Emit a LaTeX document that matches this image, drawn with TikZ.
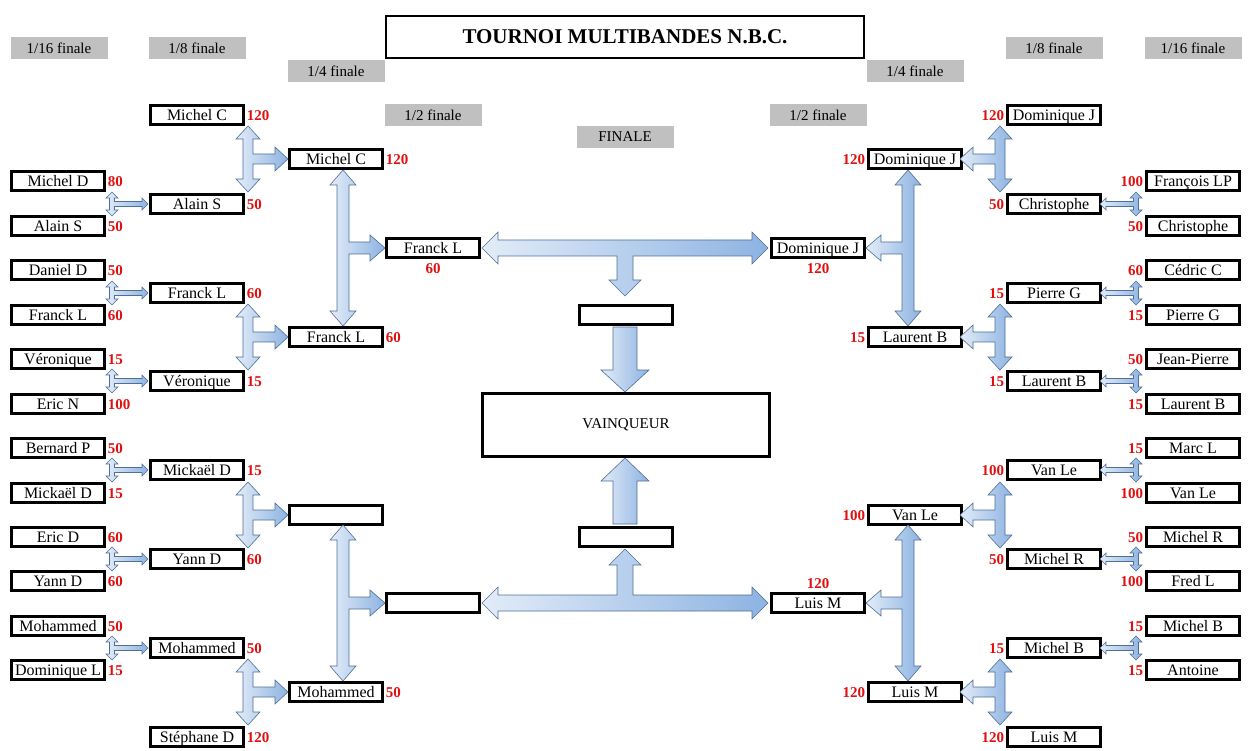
\documentclass[tikz,border=0pt]{standalone}
\usepackage{fontspec}
\setmainfont{Liberation Serif}
\definecolor{arrowblue}{HTML}{8DB3E2}
\definecolor{arrowline}{HTML}{4F6F96}
\definecolor{scorered}{HTML}{E01010}
\definecolor{headgray}{HTML}{C0C0C0}
\tikzset{
  player/.style={draw,line width=2.5pt,minimum width=93pt,minimum height=19pt,inner sep=0pt,text height=13pt,text depth=2pt,font=\fontsize{16}{18}\selectfont},
  score/.style={text=scorered,font=\bfseries\fontsize{15}{17}\selectfont,inner sep=2pt,text height=13pt,text depth=2pt},
  heading/.style={fill=headgray,minimum width=97pt,minimum height=22pt,inner sep=0pt,font=\fontsize{15}{17}\selectfont},
  fatarrow/.style={draw=arrowline,line width=0.6pt,left color=arrowblue!25!white,right color=arrowblue},
}
% T connector: s h L x ytop ybot ymid branch dir
\newcommand{\tjoin}[9]{%
  \begin{scope}[shift={(#4,#7)},xscale=#9]
    \path[fatarrow] (0,{#5-#7}) -- ({#2},{#5-#7+#3}) -- ({#1},{#5-#7+#3}) -- ({#1},{-#1})
      -- ({#8-#3},{-#1}) -- ({#8-#3},{-#2}) -- ({#8},0) -- ({#8-#3},{#2}) -- ({#8-#3},{#1})
      -- ({#1},{#1}) -- ({#1},{#6-#7-#3}) -- ({#2},{#6-#7-#3}) -- (0,{#6-#7})
      -- ({-#2},{#6-#7-#3}) -- ({-#1},{#6-#7-#3}) -- ({-#1},{#5-#7+#3}) -- ({-#2},{#5-#7+#3}) -- cycle;
  \end{scope}}
% central connector: s h L x1 x2 y xmid branch dir
\newcommand{\cjoin}[9]{%
  \begin{scope}[shift={(#7,#6)},yscale=#9]
    \path[fatarrow] ({#4-#7},0) -- ({#4-#7+#3},{-#2}) -- ({#4-#7+#3},{-#1}) -- ({#5-#7-#3},{-#1})
      -- ({#5-#7-#3},{-#2}) -- ({#5-#7},0) -- ({#5-#7-#3},{#2}) -- ({#5-#7-#3},{#1})
      -- ({#1},{#1}) -- ({#1},{#8-#3}) -- ({#2},{#8-#3}) -- (0,{#8}) -- ({-#2},{#8-#3})
      -- ({-#1},{#8-#3}) -- ({-#1},{#1}) -- ({#4-#7+#3},{#1}) -- ({#4-#7+#3},{#2}) -- cycle;
  \end{scope}}
\begin{document}
\begin{tikzpicture}[x=1pt,y=-1pt]
  \useasboundingbox (0,0) rectangle (1248,751);
  % title and round headings
  \node[draw,line width=2.5pt,minimum width=478pt,minimum height=42pt,font=\bfseries\fontsize{21}{24}\selectfont] (title) at (625,37) {TOURNOI MULTIBANDES N.B.C.};
  \foreach \x/\y/\t [count=\i] in {59/48/{1/16 finale},197/48/{1/8 finale},336/71/{1/4 finale},433/115/{1/2 finale},
      625/137/FINALE,818/115/{1/2 finale},915/71/{1/4 finale},1054/48/{1/8 finale},1193/48/{1/16 finale}}
    \node[heading] (head\i) at (\x,\y) {\t};
  % left side
  \foreach \y/\n/\s in {181/Michel D/80,226/Alain S/50,270/Daniel D/50,315/Franck L/60,359/Véronique/15,404/Eric N/100,
      448/Bernard P/50,493/Mickaël D/15,537/Eric D/60,581/Yann D/60,626/Mohammed/50,670/Dominique L/15}{
    \node[player] (la\y) at (58,\y) {\n};
    \node[score,anchor=west] at (la\y.east) {\s};}
  \foreach \y/\n/\s in {115/Michel C/120,204/Alain S/50,293/Franck L/60,381/Véronique/15,
      470/Mickaël D/15,559/Yann D/60,648/Mohammed/50,737/Stéphane D/120}{
    \node[player] (lb\y) at (197,\y) {\n};
    \node[score,anchor=west] at (lb\y.east) {\s};}
  \foreach \y/\n/\s in {159/Michel C/120,337/Franck L/60,515//,692/Mohammed/50}{
    \node[player] (lc\y) at (336,\y) {\n};
    \node[score,anchor=west] at (lc\y.east) {\s};}
  \node[player] (ld248) at (433,248) {Franck L};
  \node[score,anchor=north] at (ld248.south) {60};
  \node[player] (ld603) at (433,603) {};
  % right side
  \foreach \y/\n/\s in {181/François LP/100,226/Christophe/50,270/Cédric C/60,315/Pierre G/15,359/Jean-Pierre/50,404/Laurent B/15,
      448/Marc L/15,493/Van Le/100,537/Michel R/50,581/Fred L/100,626/Michel B/15,670/Antoine/15}{
    \node[player] (ra\y) at (1193,\y) {\n};
    \node[score,anchor=east] at (ra\y.west) {\s};}
  \foreach \y/\n/\s in {115/Dominique J/120,204/Christophe/50,293/Pierre G/15,381/Laurent B/15,
      470/Van Le/100,559/Michel R/50,648/Michel B/15,737/Luis M/120}{
    \node[player] (rb\y) at (1054,\y) {\n};
    \node[score,anchor=east] at (rb\y.west) {\s};}
  \foreach \y/\n/\s in {159/Dominique J/120,337/Laurent B/15,515/Van Le/100,692/Luis M/120}{
    \node[player] (rc\y) at (915,\y) {\n};
    \node[score,anchor=east] at (rc\y.west) {\s};}
  \node[player] (rd248) at (818,248) {Dominique J};
  \node[score,anchor=north] at (rd248.south) {120};
  \node[player] (rd603) at (818,603) {Luis M};
  \node[score,anchor=south] at (rd603.north) {120};
  % final
  \node[player] (semi1) at (626,315) {};
  \node[player] (semi2) at (626,537) {};
  \node[draw,line width=2.5pt,minimum width=287pt,minimum height=63pt,font=\fontsize{15}{17}\selectfont] (winner) at (626,425) {VAINQUEUR};
  % connectors
  \foreach \y in {204,293,381,470,559,648}{
    \tjoin{2.5}{6}{6}{112}{\y-12}{\y+12}{\y}{36}{1}
    \tjoin{2.5}{6}{6}{1136}{\y-12}{\y+12}{\y}{36}{-1}}
  \foreach \y in {159,337,515,692}{
    \tjoin{5}{12}{13}{248}{\y-33}{\y+33}{\y}{40}{1}
    \tjoin{5}{12}{13}{1000}{\y-33}{\y+33}{\y}{40}{-1}}
  \foreach \y in {248,603}{
    \tjoin{6}{13}{15}{343}{\y-78}{\y+78}{\y}{42}{1}
    \tjoin{6}{13}{15}{908}{\y-78}{\y+78}{\y}{42}{-1}}
  \cjoin{8}{16}{16}{482}{768}{248}{625}{48}{1}
  \cjoin{8}{16}{16}{482}{768}{603}{625}{54}{-1}
  \path[fatarrow] (613,327) -- (637,327) -- (637,370) -- (649,370) -- (625,392) -- (601,370) -- (613,370) -- cycle;
  \path[fatarrow] (613,524) -- (637,524) -- (637,481) -- (649,481) -- (625,458) -- (601,481) -- (613,481) -- cycle;
\end{tikzpicture}
\end{document}
